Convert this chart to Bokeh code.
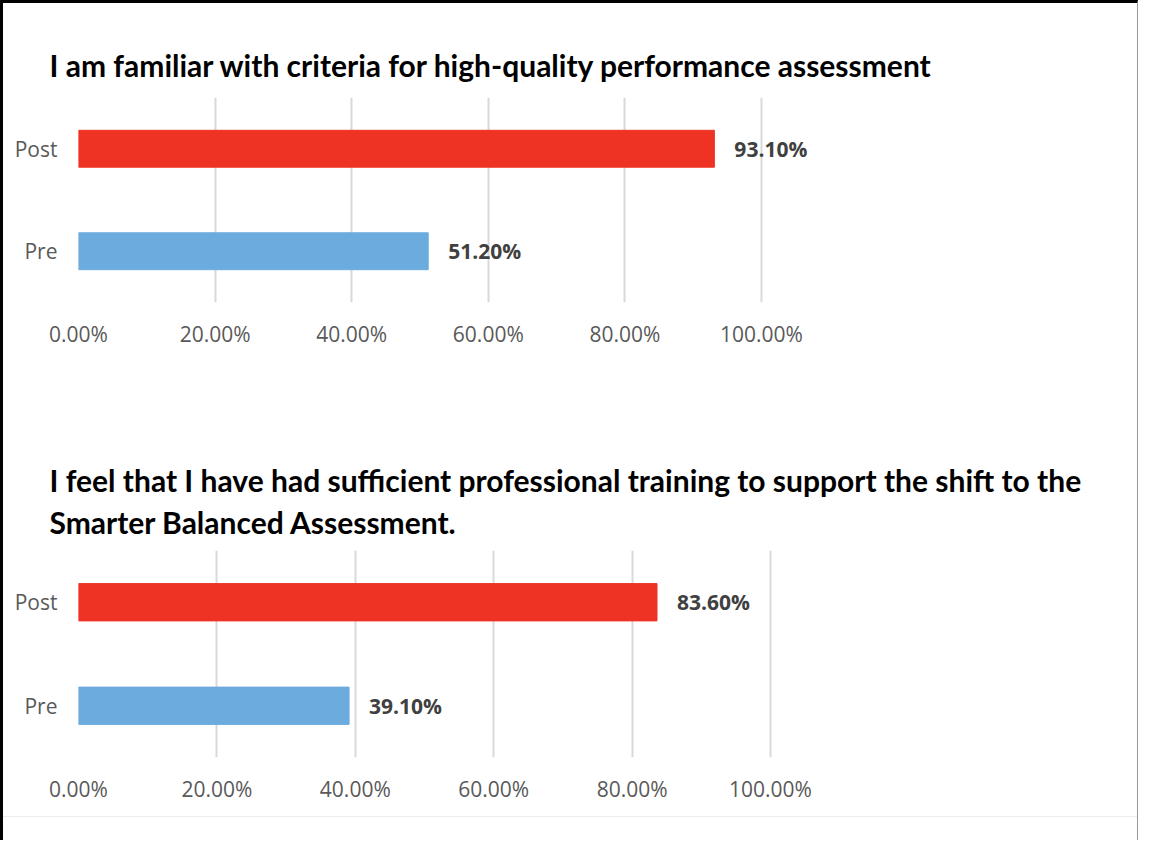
from bokeh.plotting import figure
from bokeh.layouts import column
from bokeh.models import Range1d, FactorRange, FixedTicker, ColumnDataSource, Spacer
from bokeh.core.properties import value
from bokeh.embed import file_html
from bokeh.resources import INLINE

# ---------------- data ----------------
categories = ["Pre", "Post"]
bar_colors = ["#6CABDD", "#EE3224"]

chart1_title = "I am familiar with criteria for high-quality performance assessment"
chart1_values = [51.2, 93.1]
chart1_labels = ["51.20%", "93.10%"]

chart2_title = ("I feel that I have had sufficient professional training to support the shift to the\n"
                "Smarter Balanced Assessment.")
chart2_values = [39.1, 83.6]
chart2_labels = ["39.10%", "83.60%"]

tick_values = [0, 20, 40, 60, 80, 100]
tick_labels = ["0.00%", "20.00%", "40.00%", "60.00%", "80.00%", "100.00%"]

# ---------------- layout helpers ----------------
FIG_W = 1134
LEFT = 75
RIGHT = 10
TITLE_FONT = "Lato"
LABEL_FONT = "Open Sans"


def make_chart(title, values, labels, height, top, bottom, px_per_unit,
               line_height=1.0, standoff=10):
    frame_w = FIG_W - LEFT - RIGHT
    x_end = frame_w / px_per_unit
    src = ColumnDataSource(dict(cat=categories, val=values, lab=labels, color=bar_colors))
    p = figure(width=FIG_W, height=height, y_range=FactorRange(factors=categories),
               x_range=Range1d(0, x_end), output_backend="svg", toolbar_location=None,
               min_border_left=LEFT, min_border_right=RIGHT,
               min_border_top=top, min_border_bottom=bottom)
    p.hbar(y="cat", right="val", left=0, height=0.36, color="color", source=src)
    p.text(x="val", y="cat", text="lab", source=src, x_offset=20,
           text_baseline="middle", text_align="left",
           text_font=value(LABEL_FONT), text_font_style="bold",
           text_font_size="21px", text_color="#404040")

    p.title.text = title
    p.title.text_font = TITLE_FONT
    p.title.text_font_style = "bold"
    p.title.text_font_size = "30px"
    p.title.text_color = "#000000"
    p.title.align = "left"
    p.title.offset = -29
    p.title.standoff = standoff
    p.title.text_line_height = line_height

    p.outline_line_color = None
    p.background_fill_color = "white"
    p.border_fill_color = "white"

    p.xaxis.ticker = FixedTicker(ticks=tick_values)
    p.xaxis.major_label_overrides = {t: l for t, l in zip(tick_values, tick_labels)}
    for ax in (p.xaxis, p.yaxis):
        ax.axis_line_color = None
        ax.major_tick_line_color = None
        ax.minor_tick_line_color = None
        ax.major_label_text_font = LABEL_FONT
        ax.major_label_text_font_size = "21px"
        ax.major_label_text_color = "#595959"
    p.xaxis.major_label_standoff = 11
    p.yaxis.major_label_standoff = 15

    p.xgrid.ticker = FixedTicker(ticks=tick_values)
    p.xgrid.grid_line_color = "#D9D9D9"
    p.xgrid.grid_line_width = 2
    p.ygrid.grid_line_color = None
    return p


p1 = make_chart(chart1_title, chart1_values, chart1_labels,
                height=417, top=94, bottom=118, px_per_unit=6.83, standoff=30)
p2 = make_chart(chart2_title, chart2_values, chart2_labels,
                height=396, top=130, bottom=59, px_per_unit=6.92,
                line_height=1.17, standoff=20)

bottom_space = Spacer(width=FIG_W, height=24, styles={"border-top": "1px solid #ECECEC"})

layout = column(p1, p2, bottom_space,
                styles={"border-left": "3px solid #000000",
                        "border-top": "3px solid #000000",
                        "border-right": "1px solid #9A9A9A",
                        "background-color": "white"})

open("out.html", "w").write(file_html(layout, INLINE))
